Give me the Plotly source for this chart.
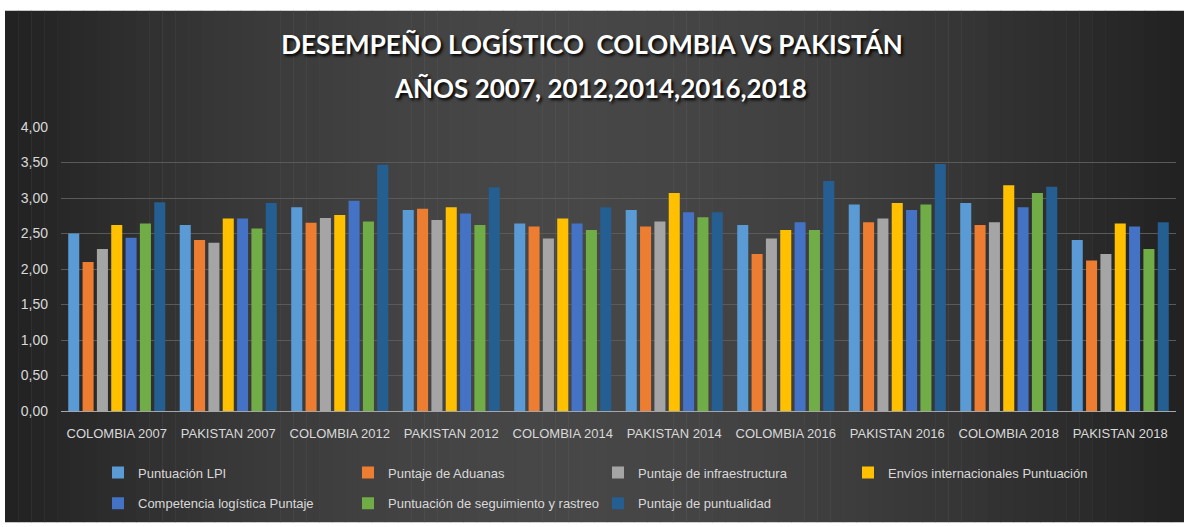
import plotly.graph_objects as go

categories = ["COLOMBIA 2007", "PAKISTAN 2007", "COLOMBIA 2012", "PAKISTAN 2012",
              "COLOMBIA 2014", "PAKISTAN 2014", "COLOMBIA 2016", "PAKISTAN 2016",
              "COLOMBIA 2018", "PAKISTAN 2018"]

lpi = [2.50, 2.62, 2.87, 2.83, 2.64, 2.83, 2.62, 2.91, 2.93, 2.41]
aduanas = [2.10, 2.41, 2.65, 2.85, 2.60, 2.60, 2.21, 2.66, 2.62, 2.12]
infraestructura = [2.28, 2.37, 2.72, 2.69, 2.43, 2.67, 2.43, 2.71, 2.66, 2.21]
envios = [2.62, 2.71, 2.76, 2.87, 2.71, 3.07, 2.55, 2.93, 3.18, 2.64]
competencia = [2.44, 2.71, 2.96, 2.78, 2.64, 2.80, 2.66, 2.83, 2.87, 2.60]
seguimiento = [2.64, 2.57, 2.67, 2.62, 2.55, 2.73, 2.55, 2.91, 3.07, 2.28]
puntualidad = [2.94, 2.93, 3.47, 3.15, 2.87, 2.80, 3.24, 3.48, 3.16, 2.66]

series_names = ["Puntuación LPI", "Puntaje de Aduanas", "Puntaje de infraestructura",
                "Envíos internacionales Puntuación", "Competencia logística Puntaje",
                "Puntuación de seguimiento y rastreo", "Puntaje de puntualidad"]
series_values = [lpi, aduanas, infraestructura, envios, competencia, seguimiento, puntualidad]
series_colors = ["#5B9BD5", "#ED7D31", "#A5A5A5", "#FFC000", "#4472C4", "#70AD47", "#255E91"]
series_legend = ["legend", "legend", "legend", "legend", "legend2", "legend2", "legend2"]

title_line1 = "DESEMPEÑO LOGÍSTICO\u00a0 COLOMBIA VS PAKISTÁN"
title_line2 = "AÑOS 2007, 2012,2014,2016,2018"
y_ticks = [0, 0.5, 1.0, 1.5, 2.0, 2.5, 3.0, 3.5, 4.0]

W, H = 1184, 527
L, R, T, B = 61, 8, 127, 114
PW = W - L - R
PH = H - T - B


def px_x(px):
    return (px - L) / PW


def px_y(py):
    return (H - B - py) / PH


fig = go.Figure()
for name, vals, col, lg in zip(series_names, series_values, series_colors, series_legend):
    fig.add_trace(go.Bar(name=name, x=categories, y=vals, marker_color=col,
                         marker_line_width=0, legend=lg))

# dark gradient background (decorative)
shapes = []
n_strips = 90
x0, x1 = 5, W
peak = 0.47
for i in range(n_strips):
    a = x0 + (x1 - x0) * i / n_strips
    b = x0 + (x1 - x0) * (i + 1) / n_strips
    t = ((a + b) / 2 - x0) / (x1 - x0)
    d = abs(t - peak) / (peak if t < peak else 1 - peak)
    v = int(round(0x21 + (0x47 - 0x21) * (1 - d ** 1.7)))
    c = "#%02x%02x%02x" % (v, v, v)
    shapes.append(dict(type="rect", xref="paper", yref="paper", layer="below",
                       x0=px_x(a), x1=px_x(b) + 0.0005, y0=px_y(H - 2), y1=px_y(10),
                       fillcolor=c, line_width=0))

small_font = dict(family="Liberation Sans", size=13, color="#d9d9d9")
title_font = dict(family="Lato", size=26, color="#ffffff", weight="bold",
                  shadow="2px 2px 3px #000000")

fig.update_layout(
    width=W, height=H,
    margin=dict(l=L, r=R, t=T, b=B),
    paper_bgcolor="#ffffff",
    plot_bgcolor="rgba(0,0,0,0)",
    shapes=shapes,
    separators=",.",
    barmode="group",
    bargap=0.10,
    bargroupgap=0.23,
    title=dict(text=title_line1, x=0.5, xanchor="center", xref="container",
               y=1 - 45 / H, yanchor="middle", yref="container", font=title_font),
    annotations=[dict(text=title_line2, xref="paper", yref="paper",
                      x=px_x(W / 2 + 8), y=px_y(88), xanchor="center", yanchor="middle",
                      showarrow=False, font=title_font)],
    xaxis=dict(showgrid=False, showline=True, linecolor="#a6a6a6", linewidth=1,
               tickfont=small_font, ticklabelstandoff=10, fixedrange=True),
    yaxis=dict(range=[0, 4], tickvals=y_ticks, tickformat=".2f", showgrid=True,
               gridcolor="#5a5a5a", gridwidth=1, zeroline=False, showline=False,
               tickfont=dict(family="Liberation Sans", size=14, color="#d9d9d9"),
               ticklabelstandoff=12, fixedrange=True),
    legend=dict(orientation="h", x=px_x(98), xanchor="left", y=px_y(475), yanchor="middle",
                entrywidth=205, font=small_font, bgcolor="rgba(0,0,0,0)",
                traceorder="normal"),
    legend2=dict(orientation="h", x=px_x(98), xanchor="left", y=px_y(506), yanchor="middle",
                 entrywidth=205, font=small_font, bgcolor="rgba(0,0,0,0)",
                 traceorder="normal"),
    showlegend=True,
)

fig.write_html("out.html")
